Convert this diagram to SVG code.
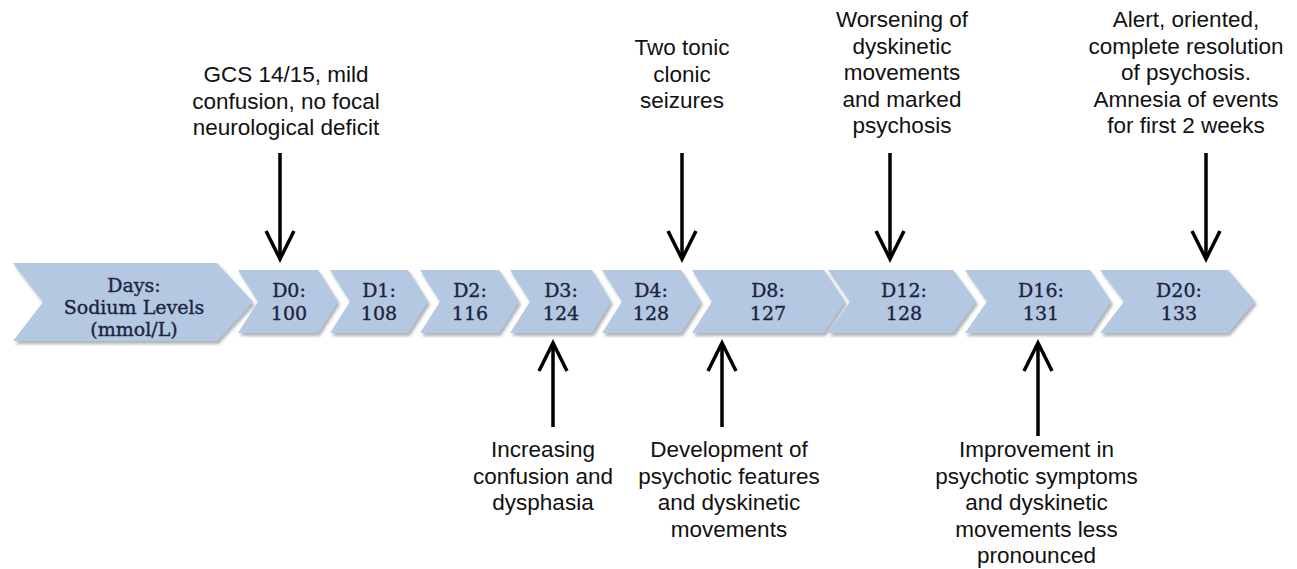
<svg xmlns="http://www.w3.org/2000/svg" width="1297" height="569" viewBox="0 0 1297 569">
  <style>
    .chev { fill: #b5c8e1; filter: url(#sh); }
    .ct { font-family: "DejaVu Serif", "Liberation Serif", serif; font-size: 19px; fill: #1b2440; stroke: #1b2440; stroke-width: 0.35; text-anchor: middle; }
    .lbl { font-family: "Liberation Sans", Arial, sans-serif; font-size: 22.5px; fill: #111; text-anchor: middle; }
    .arr { stroke: #000; stroke-width: 3.5; fill: none; marker-end: url(#ah); }
  </style>
  <defs>
    <filter id="sh" x="-5%" y="-10%" width="115%" height="130%">
      <feDropShadow dx="2" dy="3" stdDeviation="1.5" flood-color="#6d7480" flood-opacity="0.55"/>
    </filter>
    <marker id="ah" markerUnits="userSpaceOnUse" markerWidth="40" markerHeight="40" refX="0" refY="0" orient="auto" overflow="visible">
      <path d="M -28,-14 L 0,0 L -28,14" fill="none" stroke="#000" stroke-width="3.5" stroke-linejoin="miter"/>
    </marker>
  </defs>
  <rect width="1297" height="569" fill="#fff"/>

  <g id="n-header">
    <polygon class="chev" points="13,263 217,263 253,302 217,341 13,341 43,302"/>
    <text class="ct" x="134" y="292">Days:</text>
    <text class="ct" x="134" y="314">Sodium Levels</text>
    <text class="ct" x="134" y="336">(mmol/L)</text>
  </g>
  <g id="n-d0">
    <polygon class="chev" points="238,270 318,270 338,301.5 318,333 238,333 258,301.5"/>
    <text class="ct" x="289" y="297">D0:</text>
    <text class="ct" x="289" y="319.5">100</text>
  </g>
  <g id="n-d1">
    <polygon class="chev" points="330,270 408,270 428,301.5 408,333 330,333 350,301.5"/>
    <text class="ct" x="379" y="297">D1:</text>
    <text class="ct" x="379" y="319.5">108</text>
  </g>
  <g id="n-d2">
    <polygon class="chev" points="420,270 499,270 519,301.5 499,333 420,333 440,301.5"/>
    <text class="ct" x="470" y="297">D2:</text>
    <text class="ct" x="470" y="319.5">116</text>
  </g>
  <g id="n-d3">
    <polygon class="chev" points="510,270 592,270 611,301.5 592,333 510,333 530,301.5"/>
    <text class="ct" x="561" y="297">D3:</text>
    <text class="ct" x="561" y="319.5">124</text>
  </g>
  <g id="n-d4">
    <polygon class="chev" points="602,270 681,270 701,301.5 681,333 602,333 622,301.5"/>
    <text class="ct" x="651" y="297">D4:</text>
    <text class="ct" x="651" y="319.5">128</text>
  </g>
  <g id="n-d8">
    <polygon class="chev" points="692,270 824,270 845,301.5 824,333 692,333 712,301.5"/>
    <text class="ct" x="768" y="297">D8:</text>
    <text class="ct" x="768" y="319.5">127</text>
  </g>
  <g id="n-d12">
    <polygon class="chev" points="828,270 953,270 976,301.5 953,333 828,333 850,301.5"/>
    <text class="ct" x="904" y="297">D12:</text>
    <text class="ct" x="904" y="319.5">128</text>
  </g>
  <g id="n-d16">
    <polygon class="chev" points="965,270 1090,270 1111,301.5 1090,333 965,333 987,301.5"/>
    <text class="ct" x="1041" y="297">D16:</text>
    <text class="ct" x="1041" y="319.5">131</text>
  </g>
  <g id="n-d20">
    <polygon class="chev" points="1100,270 1228,270 1255,301.5 1228,333 1100,333 1124,301.5"/>
    <text class="ct" x="1179" y="297">D20:</text>
    <text class="ct" x="1179" y="319.5">133</text>
  </g>

  <g id="t-gcs">
    <text class="lbl" x="286" y="82">GCS 14/15, mild</text>
    <text class="lbl" x="286" y="108.5">confusion, no focal</text>
    <text class="lbl" x="286" y="135">neurological deficit</text>
  </g>
  <g id="t-seizures">
    <text class="lbl" x="682" y="55">Two tonic</text>
    <text class="lbl" x="682" y="81.5">clonic</text>
    <text class="lbl" x="682" y="108">seizures</text>
  </g>
  <g id="t-worsening">
    <text class="lbl" x="902" y="27">Worsening of</text>
    <text class="lbl" x="902" y="53.5">dyskinetic</text>
    <text class="lbl" x="902" y="80">movements</text>
    <text class="lbl" x="902" y="106.5">and marked</text>
    <text class="lbl" x="902" y="133">psychosis</text>
  </g>
  <g id="t-alert">
    <text class="lbl" x="1186" y="27">Alert, oriented,</text>
    <text class="lbl" x="1186" y="53.5">complete resolution</text>
    <text class="lbl" x="1186" y="80">of psychosis.</text>
    <text class="lbl" x="1186" y="106.5">Amnesia of events</text>
    <text class="lbl" x="1186" y="133">for first 2 weeks</text>
  </g>
  <g id="t-increasing">
    <text class="lbl" x="543" y="457">Increasing</text>
    <text class="lbl" x="543" y="483.5">confusion and</text>
    <text class="lbl" x="543" y="510">dysphasia</text>
  </g>
  <g id="t-development">
    <text class="lbl" x="729" y="457">Development of</text>
    <text class="lbl" x="729" y="483.5">psychotic features</text>
    <text class="lbl" x="729" y="510">and dyskinetic</text>
    <text class="lbl" x="729" y="536.5">movements</text>
  </g>
  <g id="t-improvement">
    <text class="lbl" x="1036.5" y="457">Improvement in</text>
    <text class="lbl" x="1036.5" y="483.5">psychotic symptoms</text>
    <text class="lbl" x="1036.5" y="510">and dyskinetic</text>
    <text class="lbl" x="1036.5" y="536.5">movements less</text>
    <text class="lbl" x="1036.5" y="563">pronounced</text>
  </g>

  <g id="connectors">
    <line class="arr" x1="280" y1="153" x2="280" y2="259"/>
    <line class="arr" x1="682" y1="153" x2="682" y2="259"/>
    <line class="arr" x1="890" y1="153" x2="890" y2="259"/>
    <line class="arr" x1="1206" y1="153" x2="1206" y2="259"/>
    <line class="arr" x1="553" y1="427" x2="553" y2="343"/>
    <line class="arr" x1="722" y1="427" x2="722" y2="343"/>
    <line class="arr" x1="1038" y1="436" x2="1038" y2="343"/>
  </g>
</svg>
